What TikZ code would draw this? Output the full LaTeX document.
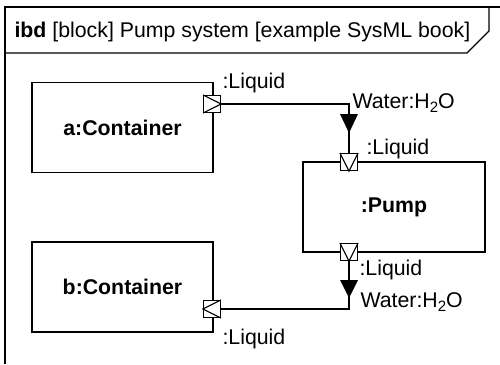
\documentclass[tikz,border=0pt]{standalone}
\usepackage{fontspec}
\setmainfont{Liberation Sans}
\usetikzlibrary{calc}
\newcommand{\HtwoO}{H\raisebox{-4pt}{\fontsize{15}{15}\selectfont 2}O}
\begin{document}
\begin{tikzpicture}[x=1pt,y=-1pt,line width=1.1pt,
  txt/.style={font=\fontsize{21.3}{25}\selectfont, inner sep=0, anchor=base west},
  blk/.style={draw, minimum width=181pt, minimum height=90pt, inner sep=0, font=\fontsize{21.3}{25}\selectfont\bfseries},
  prt/.style={draw, fill=white, minimum width=17pt, minimum height=17pt, inner sep=0}]
\useasboundingbox (0,0) rectangle (500,364);
% frame
\draw (5,364) -- (5,7) -- (500,7);
\draw (5,53) -- (467,53) -- (489,31) -- (489,7);
\node[txt] (title) at (14,37.3) {\textbf{ibd} [block] Pump system [example SysML book]};
% blocks
\node[blk] (a) at (122.5,127.5) {a:Container};
\node[blk] (b) at (122.5,287) {b:Container};
\node[blk, minimum width=182pt] (p) at (394,207) {:Pump};
% ports
\node[prt] (ap) at (212,104) {};
\node[prt] (pt) at (349,162) {};
\node[prt] (pb) at (349,252) {};
\node[prt] (bp) at (212,309) {};
\draw (ap.north west) -- (ap.east) -- (ap.south west);
\draw (pt.north west) -- (pt.south) -- (pt.north east);
\draw (pb.north west) -- (pb.south) -- (pb.north east);
\draw (bp.north east) -- (bp.west) -- (bp.south east);
% connectors
\draw (ap.east) -| (pt.north);
\draw (pb.south) |- (bp.east);
% item flows
\coordinate (f1) at (349,133);
\coordinate (f2) at (349,298);
\fill ($(f1)+(-9,-19)$) -- ($(f1)+(9,-19)$) -- (f1) -- cycle;
\fill ($(f2)+(-9,-18)$) -- ($(f2)+(9,-18)$) -- (f2) -- cycle;
% labels
\node[txt] (l1) at (222,88.5) {:Liquid};
\node[txt] (w1) at (352,108) {Water:\HtwoO};
\node[txt] (l2) at (366,154) {:Liquid};
\node[txt] (l3) at (359,275) {:Liquid};
\node[txt] (w2) at (360,307) {Water:\HtwoO};
\node[txt] (l4) at (222,344) {:Liquid};
\end{tikzpicture}
\end{document}
